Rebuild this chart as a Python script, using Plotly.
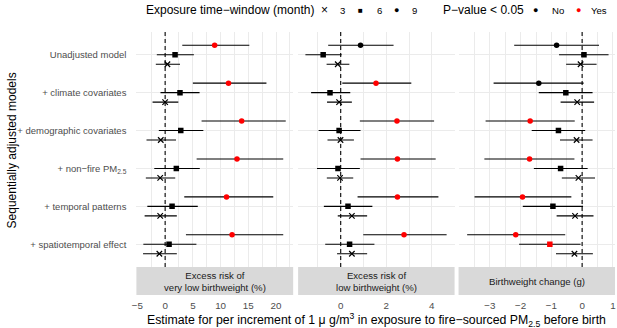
import plotly.graph_objects as go

W, H = 617, 328

# ---------------- data ----------------
models = ["Unadjusted model", "+ climate covariates", "+ demographic covariates",
          "+ non−fire PM<sub>2.5</sub>", "+ temporal patterns", "+ spatiotemporal effect"]
windows = ["9", "6", "3"]
panel_titles = ["Excess risk of<br>very low birthweight (%)",
                "Excess risk of<br>low birthweight (%)",
                "Birthweight change (g)"]

# Panel 1: excess risk of very low birthweight (%)
vlbw_9_est = [8.93, 11.43, 13.80, 12.96, 11.07, 12.07]
vlbw_9_lo = [3.09, 5.00, 6.57, 5.68, 3.45, 3.75]
vlbw_9_hi = [15.18, 18.27, 21.75, 21.30, 19.50, 21.30]
vlbw_6_est = [1.79, 2.68, 2.82, 2.02, 1.25, 0.71]
vlbw_6_lo = [-1.50, -0.84, -1.14, -1.96, -3.21, -3.93]
vlbw_6_hi = [5.18, 6.21, 6.89, 6.25, 5.89, 5.64]
vlbw_3_est = [0.41, 0.00, -0.79, -0.89, -0.89, -1.04]
vlbw_3_lo = [-1.68, -2.27, -3.36, -3.48, -3.70, -3.98]
vlbw_3_hi = [2.68, 2.38, 1.96, 1.82, 2.11, 2.11]

# Panel 2: excess risk of low birthweight (%)
lbw_9_est = [0.87, 1.55, 2.47, 2.49, 2.49, 2.78]
lbw_9_lo = [-0.55, 0.07, 0.84, 0.87, 0.74, 0.99]
lbw_9_hi = [2.32, 3.10, 4.10, 4.17, 4.29, 4.65]
lbw_6_est = [-0.77, -0.47, -0.07, -0.12, 0.32, 0.39]
lbw_6_lo = [-1.55, -1.30, -0.97, -1.04, -0.74, -0.68]
lbw_6_hi = [0.04, 0.42, 0.87, 0.84, 1.39, 1.48]
lbw_3_est = [-0.13, -0.07, -0.01, -0.03, 0.49, 0.49]
lbw_3_lo = [-0.62, -0.60, -0.58, -0.61, -0.13, -0.16]
lbw_3_hi = [0.38, 0.49, 0.58, 0.55, 1.16, 1.16]

# Panel 3: birthweight change (g)
bw_9_est = [-0.83, -1.41, -1.69, -1.71, -1.94, -2.16]
bw_9_lo = [-2.21, -2.88, -3.14, -3.18, -3.50, -3.74]
bw_9_hi = [0.55, 0.05, -0.24, -0.25, -0.35, -0.55]
bw_6_est = [0.06, -0.53, -0.77, -0.70, -0.95, -1.05]
bw_6_lo = [-0.75, -1.41, -1.64, -1.57, -1.93, -2.05]
bw_6_hi = [0.86, 0.34, 0.10, 0.18, 0.03, -0.05]
bw_3_est = [-0.05, -0.16, -0.18, -0.12, -0.23, -0.25]
bw_3_lo = [-0.52, -0.70, -0.72, -0.66, -0.83, -0.85]
bw_3_hi = [0.47, 0.39, 0.34, 0.42, 0.37, 0.35]

# tick labels
p1_ticks = [-5, 0, 5, 10, 15, 20]
p1_ticklabels = ["−5", "0", "5", "10", "15", "20"]
p2_ticks = [0, 2, 4]
p2_ticklabels = ["0", "2", "4"]
p3_ticks = [-3, -2, -1, 0, 1]
p3_ticklabels = ["−3", "−2", "−1", "0", "1"]

legend_window_title = "Exposure time−window (month)"
legend_window_labels = ["3", "6", "9"]
legend_p_title = "P−value < 0.05"
legend_p_labels = ["No", "Yes"]

# ---------------- build ----------------
panel_data = [
    {"9": (vlbw_9_est, vlbw_9_lo, vlbw_9_hi), "6": (vlbw_6_est, vlbw_6_lo, vlbw_6_hi),
     "3": (vlbw_3_est, vlbw_3_lo, vlbw_3_hi)},
    {"9": (lbw_9_est, lbw_9_lo, lbw_9_hi), "6": (lbw_6_est, lbw_6_lo, lbw_6_hi),
     "3": (lbw_3_est, lbw_3_lo, lbw_3_hi)},
    {"9": (bw_9_est, bw_9_lo, bw_9_hi), "6": (bw_6_est, bw_6_lo, bw_6_hi),
     "3": (bw_3_est, bw_3_lo, bw_3_hi)},
]

FONT = "Liberation Sans, Arial, sans-serif"
offsets = {"9": -0.25, "6": 0.0, "3": 0.25}
symbols = {"9": "circle", "6": "square", "3": "x-thin"}
sizes = {"9": 5.5, "6": 5.5, "3": 5.5}

def px_x(x):
    return x / W

def px_y(y):
    return 1 - y / H

panel_px = [(132.7, 291.0), (296.0, 454.0), (458.0, 616.0)]
plot_top, plot_bot = 32.0, 267.0
strip_top, strip_bot = 267.0, 295.0
x_ranges = [[-5.18, 23.09], [-1.87, 5.0], [-4.02, 1.07]]
ticks = [(p1_ticks, p1_ticklabels, 2.5), (p2_ticks, p2_ticklabels, 1), (p3_ticks, p3_ticklabels, 0.5)]

fig = go.Figure()
axis_ids = ["", "2", "3"]

for p, data in enumerate(panel_data):
    ax = axis_ids[p]
    for w in windows:
        est, lo, hi = data[w]
        sig = [(l > 0) or (h < 0) for l, h in zip(lo, hi)]
        cols = ["red" if s else "black" for s in sig]
        ys = [i + offsets[w] for i in range(len(models))]
        if symbols[w] == "x-thin":
            marker = dict(symbol="x-thin", size=sizes[w], color=cols,
                          line=dict(width=1.2, color=cols))
        else:
            marker = dict(symbol=symbols[w], size=sizes[w], color=cols, line=dict(width=0))
        fig.add_trace(go.Scatter(
            x=est, y=ys, mode="markers", marker=marker,
            error_x=dict(type="data", symmetric=False,
                         array=[h - e for e, h in zip(est, hi)],
                         arrayminus=[e - l for e, l in zip(est, lo)],
                         width=0, thickness=1.1, color="black"),
            xaxis="x" + ax, yaxis="y" + ax, showlegend=False, hoverinfo="skip"))

layout = dict(width=W, height=H, margin=dict(l=0, r=0, t=0, b=0), autosize=False,
              plot_bgcolor="white", paper_bgcolor="white",
              font=dict(family=FONT, size=12, color="black"), showlegend=False)

ydom = [px_y(plot_bot), px_y(plot_top)]
for p in range(3):
    ax = axis_ids[p]
    tv, tt, minor_dt = ticks[p]
    layout["xaxis" + ax] = dict(
        domain=[px_x(panel_px[p][0]), px_x(panel_px[p][1])], range=x_ranges[p],
        anchor="y" + ax, tickmode="array", tickvals=tv, ticktext=tt,
        showgrid=True, gridcolor="#ebebeb", gridwidth=1.07, zeroline=False, showline=False,
        ticks="", tickfont=dict(size=9.8, color="#4d4d4d"), ticklabelstandoff=31,
        minor=dict(tickmode="linear", tick0=0, dtick=minor_dt, showgrid=True,
                   gridcolor="#ebebeb", gridwidth=0.55))
    ydict = dict(domain=ydom, range=[len(models) - 0.4, -0.6], anchor="x" + ax,
                 showgrid=True, gridcolor="#ebebeb", gridwidth=1.07, zeroline=False,
                 showline=False, ticks="")
    if p == 0:
        ydict.update(tickmode="array", tickvals=list(range(len(models))), ticktext=models,
                     tickfont=dict(size=9.5, color="#4d4d4d"), ticklabelstandoff=9)
    else:
        ydict.update(matches="y", showticklabels=False, tickmode="array",
                     tickvals=list(range(len(models))))
    layout["yaxis" + ax] = ydict

shapes = []
annotations = []
for p in range(3):
    ax = axis_ids[p]
    shapes.append(dict(type="rect", xref="x" + ax + " domain", x0=0, x1=1,
                       yref="paper", y0=px_y(strip_bot), y1=px_y(strip_top),
                       fillcolor="#d9d9d9", line=dict(width=0), layer="below"))
    shapes.append(dict(type="line", xref="x" + ax, x0=0, x1=0,
                       yref="y" + ax + " domain", y0=0, y1=1,
                       line=dict(color="black", width=1.1, dash="4px,3px"), layer="above"))
    annotations.append(dict(text=panel_titles[p], xref="x" + ax + " domain", x=0.5,
                            yref="paper", y=px_y((strip_top + strip_bot) / 2),
                            xanchor="center", yanchor="middle", showarrow=False,
                            font=dict(size=9.6, color="#1a1a1a")))

# axis titles
annotations.append(dict(
    text="Estimate for per increment of 1 μ g/m<sup>3</sup> in exposure to fire−sourced PM<sub>2.5</sub> before birth",
    xref="paper", yref="paper", x=px_x(375.5), y=px_y(320), xanchor="center", yanchor="middle",
    showarrow=False, font=dict(size=12.3, color="black")))
annotations.append(dict(
    text="Sequentially adjusted models", xref="paper", yref="paper", x=px_x(7.5), y=px_y(150),
    xanchor="center", yanchor="middle", textangle=-90, showarrow=False,
    font=dict(size=12, color="black")))

# legend (top)
ly = px_y(10)
annotations.append(dict(text=legend_window_title, xref="paper", yref="paper", x=px_x(140), y=ly,
                        xanchor="left", yanchor="middle", showarrow=False,
                        font=dict(size=12, color="black")))
key_glyphs = ["×", "■", "●"]
key_sizes = [12, 8, 9]
key_x = [323, 359, 395.5]
lab_x = [336, 374, 409]
for g, gs, kx, lab, lx in zip(key_glyphs, key_sizes, key_x, legend_window_labels, lab_x):
    annotations.append(dict(text=g, xref="paper", yref="paper", x=px_x(kx), y=ly,
                            xanchor="center", yanchor="middle", showarrow=False,
                            font=dict(size=gs, color="black")))
    annotations.append(dict(text=lab, xref="paper", yref="paper", x=px_x(lx), y=ly,
                            xanchor="left", yanchor="middle", showarrow=False,
                            font=dict(size=9.6, color="black")))
annotations.append(dict(text=legend_p_title, xref="paper", yref="paper", x=px_x(440), y=ly,
                        xanchor="left", yanchor="middle", showarrow=False,
                        font=dict(size=12, color="black")))
p_cols = ["black", "red"]
p_key_x = [535.5, 579]
p_lab_x = [550, 590]
for c, kx, lab, lx in zip(p_cols, p_key_x, legend_p_labels, p_lab_x):
    annotations.append(dict(text="●", xref="paper", yref="paper", x=px_x(kx), y=ly,
                            xanchor="center", yanchor="middle", showarrow=False,
                            font=dict(size=9, color=c)))
    annotations.append(dict(text=lab, xref="paper", yref="paper", x=px_x(lx), y=ly,
                            xanchor="left", yanchor="middle", showarrow=False,
                            font=dict(size=9.6, color="black")))

layout["shapes"] = shapes
layout["annotations"] = annotations
fig.update_layout(**layout)
fig.write_html("out.html", config={"displayModeBar": False},
               post_script="document.body.style.margin='0';")
